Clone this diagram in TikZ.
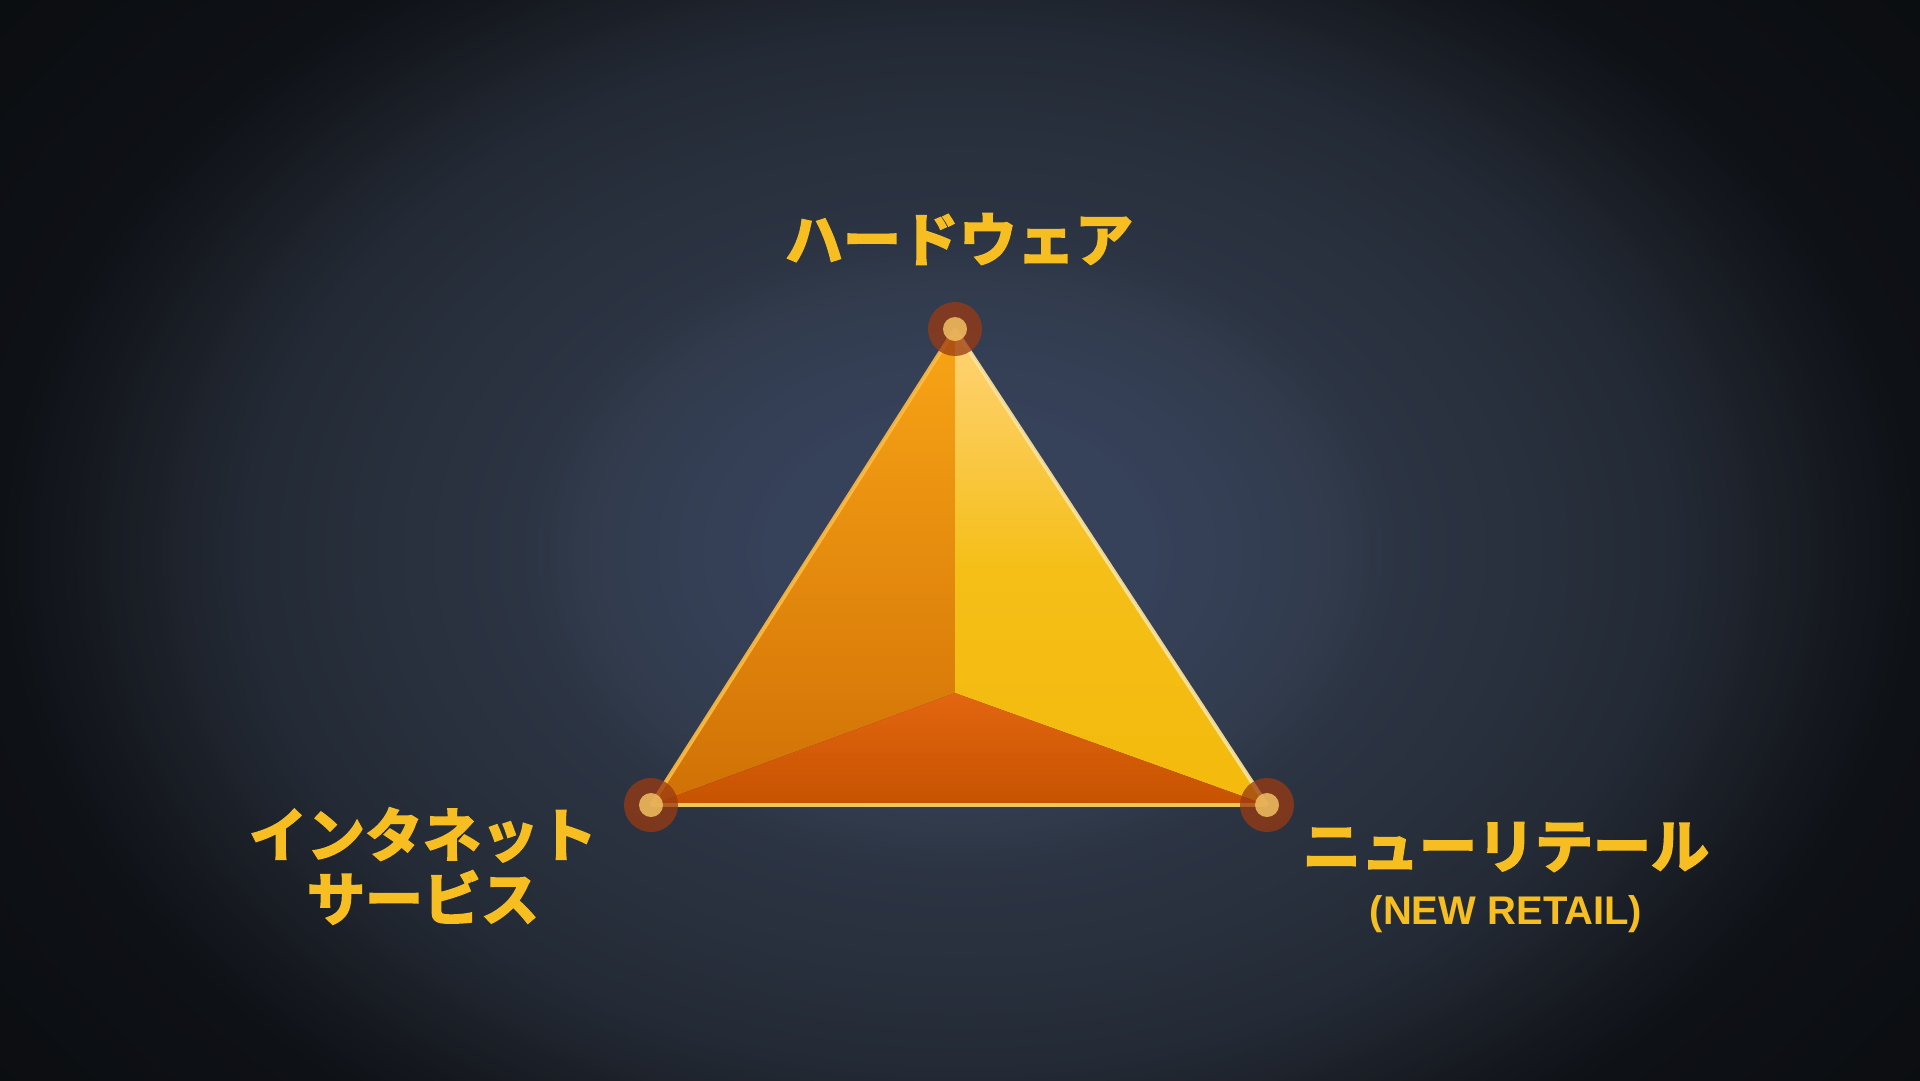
\documentclass[tikz,border=0pt]{standalone}
\usepackage{fontspec}
\newfontfamily\jp{Noto Sans CJK JP Bold}
\newfontfamily\lat{Liberation Sans}
\newcommand\heavy[1]{\special{pdf:literal direct 2 Tr 2.0 w}#1\special{pdf:literal direct 0 Tr}}
\definecolor{bg0}{HTML}{38435B}
\definecolor{bg1}{HTML}{36415A}
\definecolor{bg2}{HTML}{323C4E}
\definecolor{bg3}{HTML}{2C3443}
\definecolor{bg4}{HTML}{28303D}
\definecolor{bg5}{HTML}{232A35}
\definecolor{bg6}{HTML}{171A21}
\definecolor{bg7}{HTML}{0E1116}
\definecolor{bg8}{HTML}{0B0D10}
\definecolor{lab}{HTML}{F6BE20}
\definecolor{lfTop}{HTML}{F9A516}
\definecolor{lfBot}{HTML}{D07006}
\definecolor{rfTop}{HTML}{FFD378}
\definecolor{rfMid}{HTML}{F5BF18}
\definecolor{rfBot}{HTML}{F4BA0C}
\definecolor{bfTop}{HTML}{E36610}
\definecolor{bfBot}{HTML}{C65200}
\definecolor{edge}{HTML}{FFD760}
\definecolor{ringc}{HTML}{9A3A12}
\definecolor{dotc}{HTML}{F2C062}
\tikzset{
  lbl/.style={text=lab, inner sep=0pt, font=\jp\fontsize{58}{64}\selectfont, align=center},
  sublbl/.style={text=lab, inner sep=0pt, font=\lat\bfseries\fontsize{40}{44}\selectfont},
  ring/.style={circle, fill=ringc, fill opacity=0.75, minimum size=54pt, inner sep=0pt},
  dot/.style={circle, fill=dotc, fill opacity=0.85, minimum size=24pt, inner sep=0pt},
  edgeline/.style={draw=edge, line width=4pt, line join=round, draw opacity=0.9}
}
\begin{document}
\begin{tikzpicture}[x=1pt,y=-1pt]
\useasboundingbox (0,0) rectangle (1920,1080);
\fill[bg8] (0,0) rectangle (1920,1080);
\begin{scope}
\clip (0,0) rectangle (1920,1080);
\foreach \ra/\rb/\ca/\cb in {1.30/1.0/bg8/bg7, 1.0/0.9/bg7/bg6, 0.9/0.75/bg6/bg5, 0.75/0.6/bg5/bg4, 0.6/0.46/bg4/bg3, 0.46/0.375/bg3/bg2, 0.375/0.2/bg2/bg1, 0.2/0.02/bg1/bg0}{
  \pgfmathtruncatemacro\n{max(4,round((\ra-\rb)*150))}
  \foreach \k in {0,...,\n}{
    \pgfmathsetmacro\r{\ra-\k*(\ra-\rb)/\n}
    \pgfmathtruncatemacro\p{100*\k/\n}
    \fill[\cb!\p!\ca] (960,552) ellipse [x radius={\r*960}, y radius={\r*700}];
  }
}
\end{scope}
\coordinate (T) at (955,329);
\coordinate (L) at (651,805);
\coordinate (R) at (1267,805);
\coordinate (C) at (955,693);
% faces
\shade[top color=lfTop, bottom color=lfBot] (T) -- (C) -- (L) -- cycle;
\shade[top color=rfTop, bottom color=rfBot, middle color=rfMid] (T) -- (R) -- (C) -- cycle;
\shade[top color=bfTop, bottom color=bfBot] (L) -- (C) -- (R) -- cycle;
% edges
\draw[edgeline, draw=edge!70!orange] (T) -- (L);
\draw[edgeline, draw=edge!60!white] (T) -- (R);
\draw[edgeline] (L) -- (R);
% vertex markers
\foreach \v in {T,L,R} {
  \node[ring] (ring\v) at (\v) {};
  \node[dot] (dot\v) at (\v) {};
}
% labels
\node[lbl] (hw) at (959,239) {\heavy{ハードウェア}};
\node[lbl] (is) at (423,866) {\heavy{インタネット}\\\heavy{サービス}};
\node[lbl] (nr) at (1506,847) {\heavy{ニューリテール}};
\node[sublbl] (nrsub) at (1506,914) {(NEW RETAIL)};
\end{tikzpicture}
\end{document}
